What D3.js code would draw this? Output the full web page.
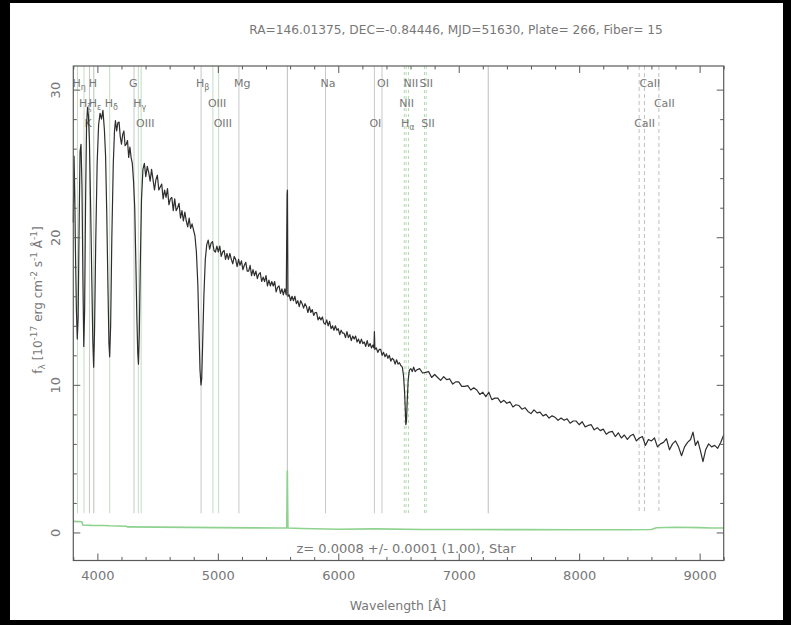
<!DOCTYPE html>
<html>
<head>
<meta charset="utf-8">
<script src="https://cdn.jsdelivr.net/npm/d3@7"></script>
<style>
body { margin: 0; background: #000; }
text { font-family: "DejaVu Sans", sans-serif; fill: #777; }
</style>
</head>
<body>
<svg id="chart" width="791" height="625"></svg>
<script>
// spectrum, [wavelength A, flux 1e-17], in four pieces
var specBlue = [[3800,21.0],[3806,25.5],[3812,23.0],[3818,19.0],[3826,15.0],[3833,13.1],[3840,14.5],[3848,20.5],[3856,25.8],[3864,26.3],
  [3872,23.5],[3880,17.0],[3887,12.6],[3894,15.0],[3902,22.5],[3910,27.5],[3918,28.8],[3926,28.2],[3934,26.5],[3944,22.0],
  [3954,17.0],[3962,13.0],[3969,11.2],[3976,13.5],[3986,19.5],[3998,25.0],[4010,27.6],[4022,28.4],[4034,28.0],[4046,28.6],
  [4058,27.3],[4068,25.5],[4078,21.5],[4088,16.5],[4096,12.8],[4102,11.9],[4110,14.0],[4120,20.0],[4132,25.0],[4142,27.2],
  [4150,27.9],[4160,27.2],[4170,27.75],[4180,27.8],[4190,26.8],[4200,26.3],[4210,26.95],[4220,27.2],[4230,26.2],[4240,26.3],
  [4250,26.55],[4260,25.4],[4270,26.1],[4280,25.4],[4290,25.0],[4300,23.8],[4310,22.0],[4320,18.0],[4328,14.5],[4335,12.2],
  [4341,11.4],[4348,13.5],[4356,18.0],[4366,22.5]];
var specHbeta = [[4378,24.6],[4390,25.0],[4402,24.1],[4414,24.8],[4426,24.4],[4438,23.8],[4450,24.6],[4462,23.9],[4474,23.2],[4486,23.9],
  [4498,24.2],[4510,23.2],[4522,23.4],[4534,23.6],[4546,22.6],[4558,23.2],[4570,22.7],[4582,23.3],[4594,22.2],[4606,22.6],
  [4618,22.7],[4630,21.8],[4642,22.6],[4654,21.8],[4666,22.0],[4678,22.3],[4690,21.3],[4702,21.8],[4714,21.1],[4726,21.7],
  [4738,21.1],[4750,20.7],[4762,21.3],[4774,20.6],[4786,20.9],[4798,20.5],[4810,20.1],[4822,19.0],[4834,16.8],[4844,13.5],
  [4852,11.0],[4860,10.0],[4866,10.4],[4874,12.8],[4884,16.0],[4896,18.5],[4908,19.5]];
var specGreen = [[4920,19.8],[4932,19.2],[4944,19.6],[4956,19.7],[4968,19.1],[4980,19.0],[4992,19.4],[5004,19.0],[5016,19.4],[5028,18.7],
  [5040,19.0],[5052,19.1],[5064,18.5],[5076,18.9],[5088,18.5],[5100,18.9],[5112,18.5],[5124,18.2],[5136,18.7],[5148,18.5],
  [5160,18.0],[5172,18.5],[5184,18.1],[5196,18.4],[5208,17.8],[5220,18.1],[5232,18.3],[5244,17.7],[5256,17.7],[5268,18.1],
  [5280,17.4],[5292,17.8],[5304,17.4],[5316,17.7],[5328,17.2],[5340,17.5],[5352,17.6],[5364,17.0],[5376,17.3],[5388,17.0],
  [5400,17.4],[5412,16.7],[5424,17.1],[5436,16.7],[5448,17.0],[5460,16.7],[5472,17.0],[5484,16.3],[5496,16.6],[5508,16.7],
  [5520,16.2],[5532,16.5],[5544,16.1],[5556,16.5],[5568,16.1],[5575,22.9],[5578,23.2],[5582,16.0],[5592,16.1],[5604,15.7],
  [5616,16.0],[5628,15.7],[5640,16.0],[5652,15.5],[5664,15.7],[5676,15.3],[5688,15.7],[5700,15.5],[5712,15.2],[5724,15.5],
  [5736,15.3],[5748,14.9],[5760,15.3],[5772,14.9],[5784,15.1],[5796,14.7],[5808,14.9],[5820,14.9],[5832,14.4],[5844,14.6],
  [5856,14.4],[5868,14.6],[5880,14.2],[5892,14.1],[5904,14.4],[5916,14.0],[5928,14.3],[5940,13.8],[5952,14.0],[5964,13.7],
  [5976,14.0],[5988,13.7],[6000,13.8],[6012,13.4],[6024,13.7],[6036,13.5],[6048,13.5],[6060,13.2],[6072,13.6],[6084,13.2],
  [6096,13.4],[6108,13.0],[6120,13.3],[6132,13.1],[6144,13.3],[6156,12.9],[6168,13.1],[6180,12.8],[6192,13.1],[6204,12.8],
  [6216,12.9],[6228,12.6],[6240,13.0],[6252,12.6],[6264,12.8],[6276,12.5],[6288,12.7],[6296,12.5],[6300,13.6],[6304,12.4]];
var specRed = [[6316,12.5],[6328,12.2],[6340,12.4],[6352,12.4],[6364,12.0],[6376,12.2],[6388,11.9],[6400,12.1],[6412,11.8],[6424,12.0],
  [6436,11.6],[6448,11.8],[6460,11.7],[6472,11.4],[6484,11.7],[6496,11.4],[6508,11.5],[6520,11.3],[6532,11.2],[6542,10.6],
  [6550,9.6],[6556,8.4],[6561,7.3],[6566,7.5],[6572,8.8],[6580,10.3],[6590,11.0],[6602,11.1],[6614,10.9],[6626,11.2],
  [6638,10.9],[6650,11.0],[6675,11.1],[6700,10.8],[6725,10.85],[6750,10.9],[6775,10.5],[6800,10.7],[6825,10.5],[6850,10.3],
  [6875,10.55],[6900,10.35],[6925,10.4],[6950,10.05],[6975,10.2],[7000,10.2],[7025,9.9],[7050,9.9],[7075,9.95],[7100,9.65],
  [7125,9.8],[7150,9.65],[7175,9.35],[7200,9.5],[7225,9.2],[7250,9.5],[7275,9.0],[7300,9.1],[7325,9.1],[7350,8.8],
  [7375,8.95],[7400,8.75],[7425,8.85],[7450,8.5],[7475,8.65],[7500,8.6],[7525,8.35],[7550,8.45],[7575,8.2],[7600,8.05],
  [7625,8.3],[7650,8.1],[7675,8.15],[7700,7.9],[7725,8.0],[7750,7.75],[7775,7.9],[7800,7.8],[7825,7.6],[7850,7.75],
  [7875,7.6],[7900,7.7],[7925,7.4],[7950,7.55],[7975,7.55],[8000,7.3],[8025,7.5],[8050,7.15],[8075,7.25],[8100,7.3],
  [8125,6.95],[8150,7.1],[8175,6.9],[8200,7.0],[8225,6.65],[8250,6.8],[8275,6.85],[8300,6.5],[8325,6.75],[8350,6.4],
  [8375,6.6],[8400,6.3],[8425,6.55],[8450,6.65],[8475,6.2],[8500,6.4],[8525,6.5],[8550,5.9],[8575,6.3],[8600,6.2],
  [8625,6.4],[8650,5.8],[8675,6.0],[8700,6.1],[8725,6.35],[8750,5.6],[8775,6.0],[8800,6.2],[8825,5.8],[8850,5.2],
  [8875,5.8],[8900,6.1],[8925,6.3],[8945,6.8],[8965,5.9],[8985,6.2],[9005,5.6],[9028,4.8],[9050,5.6],[9075,6.0],
  [9100,5.8],[9125,5.9],[9150,5.7],[9175,6.1],[9200,6.6]];

// error array (green)
var errSpec = [[3800,0.75],[3870,0.72],[3880,0.5],[3950,0.48],[4050,0.47],[4100,0.45],[4240,0.42],[4250,0.38],[4500,0.36],[5000,0.33],
  [5500,0.3],[5572,0.3],[5577,4.2],[5582,0.3],[5700,0.27],[6000,0.22],[6300,0.24],[6700,0.2],[7000,0.2],[7500,0.19],
  [8000,0.18],[8400,0.18],[8600,0.2],[8640,0.32],[8800,0.35],[9000,0.33],[9100,0.3],[9200,0.3]];

// marked lines
var lineWave  = [3835,3889,3934,3969,3970,4102,4304,4340,4363,4861,4959,5007,5175,5577,5894,6300,6363,6548,6563,6583,6716,6730,7245,8498,8542,8662];
var lineName  = ["H|η","H|ζ","K","H","H|ε","H|δ","G","H|γ","OIII","H|β","OIII","OIII","Mg","","Na","OI","OI","NII","H|α","NII","SII","SII","","CaII","CaII","CaII"];
var lineRow   = [1,2,3,1,2,2,1,2,3,1,2,3,1,0,1,3,1,2,3,1,1,3,0,3,1,2];
var lineKind  = ["em","em","abs","abs","em","em","abs","em","em","abs","em","em","abs","sky","abs","abs","abs","em2","em2","em2","em2","em2","sky","ca","ca","ca"];

var xMajor = [4000,5000,6000,7000,8000,9000];
var yMajor = [0,10,20,30];

var titleText = "RA=146.01375, DEC=-0.84446, MJD=51630, Plate= 266, Fiber= 15";
var zText = "z= 0.0008 +/- 0.0001 (1.00), Star";

var svg = d3.select("#chart");
svg.append("rect").attr("width", 791).attr("height", 625).attr("fill", "#000");
svg.append("rect").attr("x", 10).attr("y", 3).attr("width", 773).attr("height", 617).attr("fill", "#fff");

var pLeft = 73.3, pRight = 723.7, pTop = 66, pBottom = 560.5;
var x = d3.scaleLinear().domain([3800, 9200]).range([pLeft, pRight]);
var y = d3.scaleLinear().domain([-1.9, 31.6]).range([pBottom, pTop]);

// line markers
var kindStyle = {
  abs: {stroke: "#c8c8c8", dash: null},
  em:  {stroke: "#c4dcc4", dash: null},
  em2: {stroke: "#b4dab4", dash: "3,3"},
  sky: {stroke: "#bdbdbd", dash: null},
  ca:  {stroke: "#c0c0c0", dash: "4,3"}
};
svg.append("g").selectAll("line")
  .data(lineWave)
  .enter().append("line")
    .attr("x1", function(d) { return x(d); })
    .attr("x2", function(d) { return x(d); })
    .attr("y1", pTop)
    .attr("y2", y(1.3))
    .attr("stroke", function(d, i) { return kindStyle[lineKind[i]].stroke; })
    .attr("stroke-dasharray", function(d, i) { return kindStyle[lineKind[i]].dash; })
    .attr("stroke-width", 1);

var rowY = {1: 87, 2: 107, 3: 127};
var labels = svg.append("g");
lineWave.forEach(function(w, i) {
  if (!lineName[i]) return;
  var parts = lineName[i].split("|");
  var t = labels.append("text")
    .attr("x", x(w) - 5)
    .attr("y", rowY[lineRow[i]])
    .attr("font-size", 11)
    .attr("fill", "#6f6f6f")
    .text(parts[0]);
  if (parts[1]) {
    t.append("tspan").attr("font-size", 8).attr("dy", 3).text(parts[1]);
  }
});

var line = d3.line()
  .x(function(d) { return x(d[0]); })
  .y(function(d) { return y(d[1]); });

// green error line
svg.append("path")
  .datum(errSpec)
  .attr("fill", "none")
  .attr("stroke", "#8fd28f")
  .attr("stroke-width", 1.6)
  .attr("d", line);

// spectrum
svg.append("path")
  .datum(specBlue.concat(specHbeta, specGreen, specRed))
  .attr("fill", "none")
  .attr("stroke", "#2e2e2e")
  .attr("stroke-width", 1.2)
  .attr("stroke-linejoin", "round")
  .attr("d", line);

// axes, ticks pointing inward on all four sides
var axisColor = "#5a5a5a";
function styleAxis(g) {
  g.select(".domain").remove();
  g.selectAll(".tick line").attr("stroke", axisColor);
  g.selectAll("text").attr("fill", "#707070").attr("font-size", 13)
    .style("font-family", "'DejaVu Sans', sans-serif");
}
var xMinor = d3.range(3800, 9201, 200).filter(function(v) { return v % 1000 !== 0; });
var yMinor = d3.range(0, 31, 2).filter(function(v) { return v % 10 !== 0; });

svg.append("g").attr("transform", "translate(0," + pBottom + ")")
  .call(d3.axisBottom(x).tickValues(xMajor).tickFormat(d3.format("d")).tickSizeInner(-7).tickSizeOuter(0).tickPadding(10))
  .call(styleAxis);
svg.append("g").attr("transform", "translate(0," + pBottom + ")")
  .call(d3.axisBottom(x).tickValues(xMinor).tickSizeInner(-3.5).tickSizeOuter(0).tickFormat(""))
  .call(styleAxis);
svg.append("g").attr("transform", "translate(0," + pTop + ")")
  .call(d3.axisTop(x).tickValues(xMajor).tickSizeInner(-7).tickSizeOuter(0).tickFormat(""))
  .call(styleAxis);
svg.append("g").attr("transform", "translate(0," + pTop + ")")
  .call(d3.axisTop(x).tickValues(xMinor).tickSizeInner(-3.5).tickSizeOuter(0).tickFormat(""))
  .call(styleAxis);

var yAx = svg.append("g").attr("transform", "translate(" + pLeft + ",0)")
  .call(d3.axisLeft(y).tickValues(yMajor).tickSizeInner(-7).tickSizeOuter(0))
  .call(styleAxis);
yAx.selectAll("text")
  .attr("x", null).attr("dy", null)
  .attr("text-anchor", "middle")
  .attr("transform", "translate(-13,0) rotate(-90)");
svg.append("g").attr("transform", "translate(" + pLeft + ",0)")
  .call(d3.axisLeft(y).tickValues(yMinor).tickSizeInner(-3.5).tickSizeOuter(0).tickFormat(""))
  .call(styleAxis);
svg.append("g").attr("transform", "translate(" + pRight + ",0)")
  .call(d3.axisRight(y).tickValues(yMajor).tickSizeInner(-7).tickSizeOuter(0).tickFormat(""))
  .call(styleAxis);
svg.append("g").attr("transform", "translate(" + pRight + ",0)")
  .call(d3.axisRight(y).tickValues(yMinor).tickSizeInner(-3.5).tickSizeOuter(0).tickFormat(""))
  .call(styleAxis);

svg.append("rect")
  .attr("x", pLeft).attr("y", pTop)
  .attr("width", pRight - pLeft).attr("height", pBottom - pTop)
  .attr("fill", "none").attr("stroke", axisColor).attr("stroke-width", 1.2);

// texts
svg.append("text").attr("x", 456).attr("y", 34).attr("text-anchor", "middle")
  .attr("font-size", 12.2).attr("fill", "#8a8a8a").text(titleText);

svg.append("text").attr("x", 406).attr("y", 553).attr("text-anchor", "middle")
  .attr("font-size", 13).attr("fill", "#707070").text(zText);

svg.append("text").attr("x", 398).attr("y", 610).attr("text-anchor", "middle")
  .attr("font-size", 12.5).attr("fill", "#707070").text("Wavelength [\u00c5]");

var yl = svg.append("text")
  .attr("transform", "translate(42,300) rotate(-90)")
  .attr("text-anchor", "middle")
  .attr("font-size", 12).attr("fill", "#707070");
yl.append("tspan").text("f");
yl.append("tspan").attr("font-size", 9).attr("dy", 3).text("\u03bb");
yl.append("tspan").attr("dy", -3).text(" [10");
yl.append("tspan").attr("font-size", 9).attr("dy", -5).text("-17");
yl.append("tspan").attr("dy", 5).text(" erg cm");
yl.append("tspan").attr("font-size", 9).attr("dy", -5).text("-2");
yl.append("tspan").attr("dy", 5).text(" s");
yl.append("tspan").attr("font-size", 9).attr("dy", -5).text("-1");
yl.append("tspan").attr("dy", 5).text(" \u00c5");
yl.append("tspan").attr("font-size", 9).attr("dy", -5).text("-1");
yl.append("tspan").attr("dy", 5).text("]");
</script>
</body>
</html>
